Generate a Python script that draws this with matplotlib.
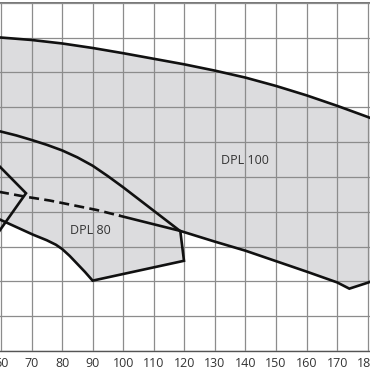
import matplotlib
matplotlib.use("Agg")
import matplotlib.pyplot as plt

# ---- data (x = flow, y = head in grid units) ----
x_ticks = [60, 70, 80, 90, 100, 110, 120, 130, 140, 150, 160, 170, 180]

# DPL 100 envelope
dpl100_top_x = [50, 60, 70, 80, 90, 100, 110, 120, 130, 140, 150, 160, 170, 180, 190]
dpl100_top_y = [9.05, 9.0, 8.93, 8.83, 8.70, 8.55, 8.39, 8.23, 8.05, 7.85, 7.61, 7.34, 7.04, 6.72, 6.38]
dpl100_low_dash_x = [50, 60, 68, 76, 91.3, 99]
dpl100_low_dash_y = [4.71, 4.56, 4.43, 4.32, 4.05, 3.88]
dpl100_low_x = [99, 118.6, 130, 140, 150, 160, 170, 174, 180, 190]
dpl100_low_y = [3.88, 3.45, 3.14, 2.88, 2.58, 2.28, 1.97, 1.79, 1.96, 2.3]

# DPL 80 envelope
dpl80_top_x = [50, 60, 65, 70, 75, 80, 85, 90, 95, 100, 118.7]
dpl80_top_y = [6.5, 6.30, 6.19, 6.06, 5.92, 5.76, 5.56, 5.32, 5.02, 4.70, 3.44]
dpl80_right_x = [118.7, 119.9, 90.0]
dpl80_right_y = [3.44, 2.59, 2.02]
dpl80_left_x = [90.0, 87.5, 85, 82.5, 80, 78, 75, 70.5, 60, 50]
dpl80_left_y = [2.02, 2.27, 2.50, 2.73, 2.93, 3.05, 3.18, 3.34, 3.76, 4.2]

# smaller pump envelope at the left edge
small_x = [50, 60, 68.2, 60, 50]
small_y = [6.16, 5.26, 4.53, 3.51, 2.26]

labels = ["DPL 100", "DPL 80"]
label_x = [139.9, 89.4]
label_y = [5.46, 3.47]

# ---- figure ----
W = 370
fig = plt.figure(figsize=(3.7, 3.7), dpi=100)
xmin, xmax = 50, 190
px0 = 0.94 - 3.056 * (60 - xmin)
px1 = 0.94 + 3.056 * (xmax - 60)
ax = fig.add_axes([px0 / W, (W - 351) / W, (px1 - px0) / W, (351 - 2.7) / W])
ax.set_xlim(xmin, xmax)
ax.set_ylim(0, 10)

fill_c = "#dcdcde"
line_c = "#111111"
lw = 1.9

# fills
ax.fill(dpl100_top_x + dpl100_low_x[::-1] + dpl100_low_dash_x[::-1],
        dpl100_top_y + dpl100_low_y[::-1] + dpl100_low_dash_y[::-1],
        color=fill_c, lw=0, zorder=1)
ax.fill(dpl80_top_x + dpl80_right_x + dpl80_left_x,
        dpl80_top_y + dpl80_right_y + dpl80_left_y,
        color=fill_c, lw=0, zorder=1)
ax.fill(small_x, small_y, color=fill_c, lw=0, zorder=1)

# outlines
ax.plot(dpl100_top_x, dpl100_top_y, color=line_c, lw=lw, zorder=3)
ax.plot(dpl100_low_x, dpl100_low_y, color=line_c, lw=lw, zorder=3,
        solid_joinstyle="miter")
ax.plot(dpl100_low_dash_x, dpl100_low_dash_y, color=line_c, lw=lw, zorder=3,
        linestyle=(0, (3.8, 2.0)))
ax.plot(dpl80_top_x + dpl80_right_x[1:] + dpl80_left_x[1:],
        dpl80_top_y + dpl80_right_y[1:] + dpl80_left_y[1:],
        color=line_c, lw=lw, zorder=3, solid_joinstyle="miter")
ax.plot(small_x, small_y, color=line_c, lw=lw, zorder=3, solid_joinstyle="miter")

for t, x, y in zip(labels, label_x, label_y):
    ax.text(x, y, t, ha="center", va="center", fontsize=9,
            family="Open Sans", color="#333333", zorder=4)

# grid
ax.set_axisbelow(False)
ax.set_xticks(x_ticks)
ax.set_xticklabels([str(v) for v in x_ticks], family="Open Sans",
                   fontsize=9, color="#333333")
ax.set_yticks(range(0, 11))
ax.set_yticklabels([])
ax.tick_params(length=0, pad=4)
ax.grid(True, color="#8c8c8c", lw=0.9)
for s in ["left", "right"]:
    ax.spines[s].set_visible(False)
ax.spines["top"].set_color("#777777")
ax.spines["top"].set_linewidth(1.4)
ax.spines["bottom"].set_color("#555555")
ax.spines["bottom"].set_linewidth(1.0)

fig.savefig("out.png", dpi=100)
